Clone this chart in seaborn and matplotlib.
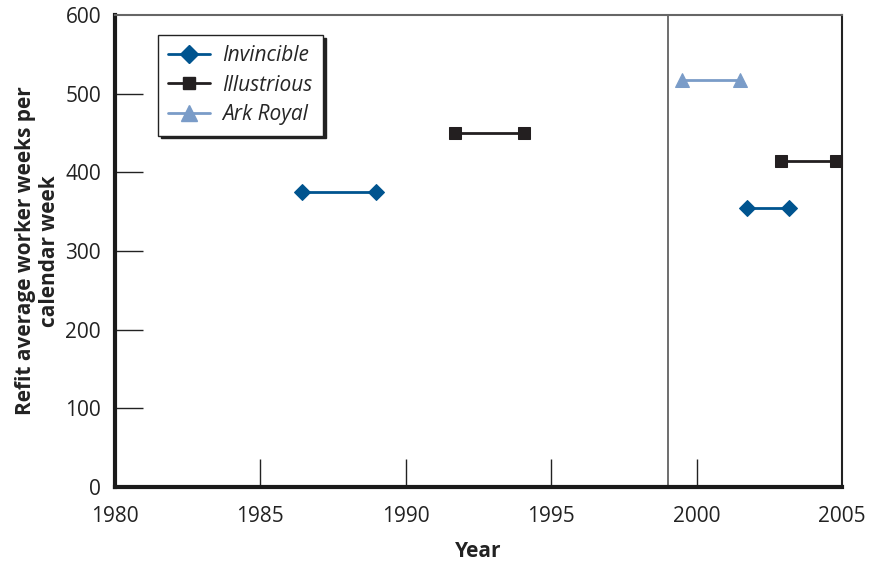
import matplotlib
matplotlib.use("Agg")
import matplotlib.pyplot as plt
import seaborn as sns
import pandas as pd
from matplotlib.lines import Line2D

ships = ["Invincible", "Illustrious", "Ark Royal"]
colors = {"Invincible": "#00548f", "Illustrious": "#231f20", "Ark Royal": "#7a9cc8"}
markers = {"Invincible": "D", "Illustrious": "s", "Ark Royal": "^"}
msizes = {"Invincible": 8, "Illustrious": 8, "Ark Royal": 10}

# refit periods (start, end) and value
inv_start = [1986.43, 2001.73]
inv_end = [1988.98, 2003.18]
inv_val = [375, 355]
ill_start = [1991.7, 2002.9]
ill_end = [1994.06, 2004.8]
ill_val = [450, 415]
ark_start = [1999.5]
ark_end = [2001.5]
ark_val = [518]

x_ticks = [1980, 1985, 1990, 1995, 2000, 2005]
y_ticks = [0, 100, 200, 300, 400, 500, 600]
divider_year = 1999.0

rows = []
for ship, st, en, vals in [("Invincible", inv_start, inv_end, inv_val),
                           ("Illustrious", ill_start, ill_end, ill_val),
                           ("Ark Royal", ark_start, ark_end, ark_val)]:
    for i, (s, e, v) in enumerate(zip(st, en, vals)):
        rows.append(dict(ship=ship, seg=i, year=s, value=v))
        rows.append(dict(ship=ship, seg=i, year=e, value=v))
df = pd.DataFrame(rows)

sns.set_style("white")
plt.rcParams["font.family"] = ["Open Sans", "DejaVu Sans"]
FS = 15

fig = plt.figure(figsize=(8.69, 5.63), dpi=100)
ax = fig.add_axes([0.1323, 0.135, 0.8367, 0.838])

for ship in ships:
    for seg, sub in df[df.ship == ship].groupby("seg"):
        sns.lineplot(data=sub, x="year", y="value", ax=ax, color=colors[ship],
                     marker=markers[ship], markersize=msizes[ship],
                     markeredgecolor=colors[ship], linewidth=2, legend=False,
                     estimator=None, sort=False, clip_on=False, zorder=3)

ax.axvline(divider_year, color="#555555", linewidth=1.2, zorder=1)

ax.set_xlim(1980, 2005)
ax.set_ylim(0, 600)
ax.set_xticks(x_ticks)
ax.set_yticks(y_ticks)
ax.tick_params(axis="x", direction="in", length=20, width=1, color="#222222",
               labelsize=FS, pad=14, top=False, bottom=True, labelcolor="#222222")
ax.tick_params(axis="y", direction="in", length=20, width=1, color="#222222",
               labelsize=FS, pad=10, left=True, right=False, labelcolor="#222222")
# hide tick marks that coincide with the frame
for tl in [ax.xaxis.get_major_ticks()[0], ax.xaxis.get_major_ticks()[-1],
           ax.yaxis.get_major_ticks()[0], ax.yaxis.get_major_ticks()[-1]]:
    tl.tick1line.set_visible(False)

for side in ["left", "bottom"]:
    ax.spines[side].set_linewidth(3)
    ax.spines[side].set_color("#1a1a1a")
ax.spines["top"].set_linewidth(1.5)
ax.spines["top"].set_color("#666666")
ax.spines["right"].set_linewidth(1.5)
ax.spines["right"].set_color("#222222")

ax.set_xlabel("Year", fontsize=FS, fontweight="bold", labelpad=10, color="#222222")
ax.set_ylabel("Refit average worker weeks per\ncalendar week", fontsize=FS,
              fontweight="bold", labelpad=4, color="#222222", linespacing=1.15)

handles = [Line2D([0], [0], color=colors[s], marker=markers[s], markersize=msizes[s] + 1,
                  linewidth=2) for s in ships]
leg = ax.legend(handles, ships, loc="upper left", bbox_to_anchor=(0.059, 0.958),
                borderaxespad=0,
                frameon=True, fancybox=False, shadow={"color": "#222222", "alpha": 1},
                prop={"style": "italic", "size": FS}, handlelength=2.0,
                borderpad=0.5, labelspacing=0.4, handletextpad=0.6)
leg.get_frame().set_edgecolor("#222222")
leg.get_frame().set_linewidth(1)
leg.get_frame().set_alpha(1)

fig.savefig("out.png", dpi=100)
